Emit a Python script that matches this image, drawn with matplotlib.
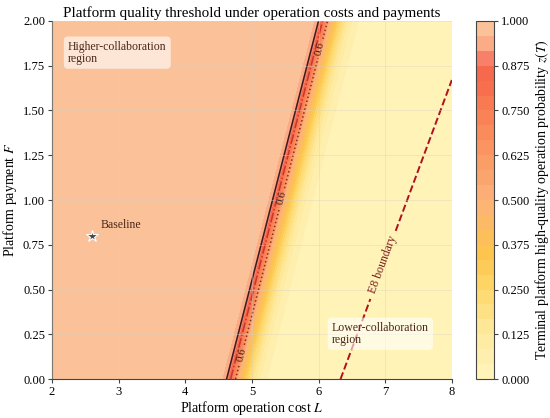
import numpy as np
import matplotlib
matplotlib.use("Agg")
import matplotlib.pyplot as plt
from matplotlib.colors import LinearSegmentedColormap

plt.rcParams["font.family"] = "serif"
plt.rcParams["font.serif"] = ["Liberation Serif", "DejaVu Serif"]
plt.rcParams["mathtext.fontset"] = "stix"

# axis ranges
L_range = [2.0, 8.0]
F_range = [0.0, 2.0]

# threshold: z(T)=0.5 where L = c0 + c1*F
c0, c1 = 4.785, 0.69
k_left, k_right = 13.3, 7.2   # steepness on the high / low side

# contour lines drawn over the field
line_levels = [0.6, 0.8, 0.9]
line_colors = ["#8a2c1f", "#c8372b", "#3a1d1d"]
line_styles = [":", "-.", "-"]
label_F = [1.84, 1.0, 0.12]   # where each level is labelled

# E8 boundary: F = L - e8_shift
e8_shift = 6.33
e8_label_pos = (6.95, 0.64)

baseline = (2.6, 0.8)

cb_ticks = [0, 0.125, 0.25, 0.375, 0.5, 0.625, 0.75, 0.875, 1.0]
cmap = LinearSegmentedColormap.from_list("zt", [
    (0.0, "#fff5bd"), (0.12, "#feeaa0"), (0.25, "#fed86c"), (0.35, "#fdc54c"),
    (0.5, "#fcb27a"), (0.62, "#fb9a64"), (0.75, "#f97f54"), (0.85, "#f7674a"),
    (0.9, "#f8806a"), (0.94, "#fbab86"), (0.97, "#fac096"), (1.0, "#fcc7a0")])

L = np.linspace(*L_range, 500)
F = np.linspace(*F_range, 300)
LL, FF = np.meshgrid(L, F)
d = LL - (c0 + c1 * FF)
k = np.where(d < 0, k_left, k_right)
Z = 1.0 / (1.0 + np.exp(k * d))

fig = plt.figure(figsize=(5.5, 4.18), dpi=100)
ax = fig.add_axes([0.0945, 0.093, 0.727, 0.857])
cax = fig.add_axes([0.866, 0.093, 0.033, 0.857])

cf = ax.contourf(LL, FF, Z, levels=np.linspace(0, 1, 25), cmap=cmap, vmin=0, vmax=1)
cs = ax.contour(LL, FF, Z, levels=line_levels, colors=line_colors,
                linestyles=line_styles, linewidths=1.1)
label_pos = [(c0 + c1 * f - np.log(1 / v - 1) / k_left, f)
             for v, f in zip(line_levels, label_F)]
ax.clabel(cs, fmt="%.1f", fontsize=8, colors="#3a1d1d", manual=label_pos,
          inline=True, inline_spacing=3)

e8 = ax.contour(LL, FF, FF - (LL - e8_shift), levels=[0], colors="#b01020",
                linestyles="--", linewidths=1.4)
ax.clabel(e8, fmt={0: "E8 boundary"}, fontsize=8.5, colors="#7a1f1f",
          manual=[e8_label_pos], inline=True, inline_spacing=6)

ax.plot(*baseline, marker="*", ms=9, color="#4a4a4a", mec="white", mew=0.8)
ax.annotate("Baseline", baseline, xytext=(6, 6), textcoords="offset points",
            fontsize=8.5, color="#4a2718")

box = dict(boxstyle="round,pad=0.35", fc="white", ec="none", alpha=0.6)
ax.text(0.04, 0.945, "Higher-collaboration\nregion", transform=ax.transAxes,
        va="top", ha="left", fontsize=8.5, color="#4a2718", bbox=box, linespacing=1.0)
ax.text(0.70, 0.16, "Lower-collaboration\nregion", transform=ax.transAxes,
        va="top", ha="left", fontsize=8.5, color="#4a2718", bbox=box, linespacing=1.0)

ax.grid(True, color="#d8d0c0", alpha=0.45, lw=0.6)
ax.set_axisbelow(False)
ax.set_xlim(*L_range)
ax.set_ylim(*F_range)
ax.set_xticks([2, 3, 4, 5, 6, 7, 8])
ax.set_yticks(np.arange(0, 2.01, 0.25))
ax.yaxis.set_major_formatter(matplotlib.ticker.FormatStrFormatter("%.2f"))
for s in ["top", "right"]:
    ax.spines[s].set_visible(False)
for s in ["left", "bottom"]:
    ax.spines[s].set_color("#444444")
ax.tick_params(labelsize=9, color="#444444", length=3, pad=2)
ax.set_xlabel("Platform operation cost $L$", fontsize=10, labelpad=1)
ax.set_ylabel("Platform payment $F$", fontsize=10, labelpad=3)
ax.set_title("Platform quality threshold under operation costs and payments",
             fontsize=10.8, pad=3)

cb = fig.colorbar(cf, cax=cax, ticks=cb_ticks, format="%.3f")
cb.outline.set_edgecolor("#444444")
cb.ax.tick_params(labelsize=9, color="#444444", length=3, pad=2)
cb.set_label("Terminal platform high-quality operation probability $z(T)$",
             fontsize=10, labelpad=2)

fig.savefig("out.png", dpi=100)
